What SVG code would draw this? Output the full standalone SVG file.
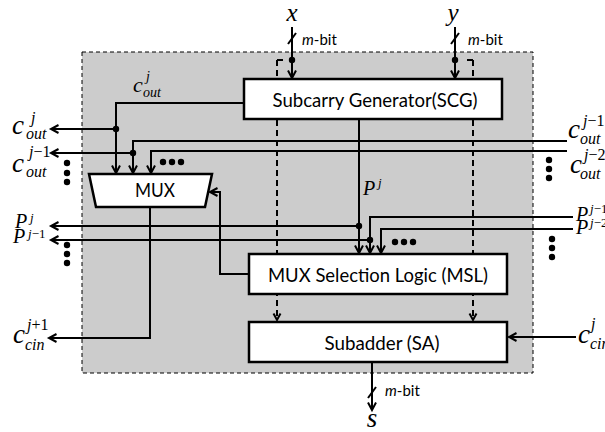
<svg xmlns="http://www.w3.org/2000/svg" width="605" height="432" viewBox="0 0 605 432">
<defs>
<marker id="arr" markerUnits="userSpaceOnUse" markerWidth="12" markerHeight="12" refX="9" refY="5" orient="auto" overflow="visible">
<path d="M1.5,1 L9,5 L1.5,9" fill="none" stroke="#000" stroke-width="2"/>
</marker>
<marker id="arrd" markerUnits="userSpaceOnUse" markerWidth="12" markerHeight="12" refX="8" refY="4.5" orient="auto" overflow="visible">
<path d="M1.5,1 L8,4.5 L1.5,8" fill="none" stroke="#000" stroke-width="2"/>
</marker>
</defs>
<style>
.box{fill:#fff;stroke:#000;stroke-width:2.5}
.w{fill:none;stroke:#000;stroke-width:2}
.a{marker-end:url(#arr)}
.d{fill:none;stroke:#000;stroke-width:2;stroke-dasharray:6 4}
.lbl{font-family:Lato,'Liberation Sans',sans-serif;font-size:19px;fill:#000}
.mb{font-family:Lato,'Liberation Sans',sans-serif;font-size:15px;fill:#000}
.m{font-family:'Liberation Serif',serif;font-style:italic;fill:#000}
.big{font-size:27px}
.top{font-size:25px}
.mid{font-size:22px}
.p{font-size:20px}
.s16{font-size:16px}
.s14{font-size:14px}
.s13{font-size:13px}
.up{font-style:normal}
.dot{fill:#000}
</style>
<rect id="frame" x="82" y="52" width="451" height="321" fill="#cccccc" stroke="#000" stroke-width="1" stroke-dasharray="4 3"/>
<g id="connectors">
<path class="d" d="M277,60 H285"/>
<path class="d" d="M277,60 V320" marker-end="url(#arrd)"/>
<path class="d" d="M473,60 H466"/>
<path class="d" d="M473,60 V320" marker-end="url(#arrd)"/>
<path class="w a" d="M292,27 V78"/>
<path class="w a" d="M455,27 V78"/>
<path class="w" d="M288,44 L296,33"/>
<path class="w" d="M451,44 L459,33"/>
<path class="w a" d="M244,103 H116 V173"/>
<path class="w a" d="M116,129 H51"/>
<path class="w a" d="M567,141 H133 V173"/>
<path class="w a" d="M133,153 H51"/>
<path class="w a" d="M567,151 H151 V173"/>
<path class="w a" d="M359,119 V253"/>
<path class="w a" d="M359,226 H51"/>
<path class="w a" d="M573,217 H370 V253"/>
<path class="w a" d="M370,240 H51"/>
<path class="w a" d="M573,229 H381 V253"/>
<path class="w a" d="M249,274 H220 V192 H210"/>
<path class="w a" d="M150,207 V338 H49"/>
<path class="w a" d="M576,337 H509"/>
<path class="w a" d="M372,362 V410"/>
<path class="w" d="M368,398 L376,387"/>
<circle class="dot" cx="292" cy="60" r="3.2"/>
<circle class="dot" cx="455" cy="60" r="3.2"/>
<circle class="dot" cx="116" cy="129" r="3.2"/>
<circle class="dot" cx="133" cy="153" r="3.2"/>
<circle class="dot" cx="359" cy="226" r="3.2"/>
<circle class="dot" cx="370" cy="240" r="3.2"/>
</g>
<g id="ellipses">
<circle class="dot" cx="163" cy="162" r="3.2"/><circle class="dot" cx="172" cy="162" r="3.2"/><circle class="dot" cx="181" cy="162" r="3.2"/>
<circle class="dot" cx="395" cy="242" r="3.2"/><circle class="dot" cx="404" cy="242" r="3.2"/><circle class="dot" cx="413" cy="242" r="3.2"/>
<circle class="dot" cx="67" cy="163" r="3.2"/><circle class="dot" cx="67" cy="173" r="3.2"/><circle class="dot" cx="67" cy="182" r="3.2"/>
<circle class="dot" cx="67" cy="245" r="3.2"/><circle class="dot" cx="67" cy="254" r="3.2"/><circle class="dot" cx="67" cy="263" r="3.2"/>
<circle class="dot" cx="549" cy="160" r="3.2"/><circle class="dot" cx="549" cy="169" r="3.2"/><circle class="dot" cx="549" cy="178" r="3.2"/>
<circle class="dot" cx="552" cy="239" r="3.2"/><circle class="dot" cx="552" cy="248" r="3.2"/><circle class="dot" cx="552" cy="257" r="3.2"/>
</g>
<g id="scg">
<rect class="box" x="244" y="79" width="258" height="40"/>
<text class="lbl" x="375" y="106.5" text-anchor="middle" textLength="205" lengthAdjust="spacingAndGlyphs">Subcarry Generator(SCG)</text>
</g>
<g id="mux">
<polygon class="box" points="89,174 212,174 205,207 96,207"/>
<text class="lbl" x="155" y="197" text-anchor="middle" textLength="40" lengthAdjust="spacingAndGlyphs">MUX</text>
</g>
<g id="msl">
<rect class="box" x="249" y="254" width="258" height="40"/>
<text class="lbl" x="378" y="281.5" text-anchor="middle" textLength="220" lengthAdjust="spacingAndGlyphs">MUX Selection Logic (MSL)</text>
</g>
<g id="sa">
<rect class="box" x="249" y="322" width="258" height="40"/>
<text class="lbl" x="382" y="349.5" text-anchor="middle" textLength="115" lengthAdjust="spacingAndGlyphs">Subadder (SA)</text>
</g>
<g id="labels">
<text class="m top" x="292" y="21" text-anchor="middle">x</text>
<text class="m top" x="453" y="21" text-anchor="middle">y</text>
<text class="m big" x="372" y="427" text-anchor="middle">s</text>
<text class="mb" x="302" y="45"><tspan font-style="italic">m</tspan>-bit</text>
<text class="mb" x="468" y="45"><tspan font-style="italic">m</tspan>-bit</text>
<text class="mb" x="385" y="396"><tspan font-style="italic">m</tspan>-bit</text>
<text class="m mid" x="133" y="92">c</text><text class="m s14" x="146" y="81">j</text><text class="m s14" x="143" y="97">out</text>
<text class="m p" x="363" y="195">P</text><text class="m s13" x="378" y="187">j</text>
<text class="m big" x="12" y="134">c</text><text class="m s16" x="31" y="123">j</text><text class="m s16" x="26" y="139">out</text>
<text class="m big" x="12" y="172">c</text><text class="m s16" x="29" y="157">j<tspan class="up">−1</tspan></text><text class="m s16" x="26" y="177">out</text>
<text class="m big" x="568" y="138">c</text><text class="m s16" x="583" y="126">j<tspan class="up">−1</tspan></text><text class="m s16" x="580" y="144">out</text>
<text class="m big" x="570" y="173">c</text><text class="m s16" x="584" y="160">j<tspan class="up">−2</tspan></text><text class="m s16" x="580" y="179">out</text>
<text class="m p" x="15" y="228">P</text><text class="m s13" x="30" y="222">j</text>
<text class="m p" x="13" y="243">P</text><text class="m s13" x="28" y="238">j<tspan class="up">−1</tspan></text>
<text class="m p" x="576" y="221">P</text><text class="m s13" x="590" y="213">j<tspan class="up">−1</tspan></text>
<text class="m p" x="576" y="234">P</text><text class="m s13" x="590" y="227">j<tspan class="up">−2</tspan></text>
<text class="m big" x="13" y="343">c</text><text class="m s16" x="27" y="330">j<tspan class="up">+1</tspan></text><text class="m s16" x="25" y="350">cin</text>
<text class="m big" x="578" y="343">c</text><text class="m s16" x="591" y="329">j</text><text class="m s16" x="590" y="349">cin</text>
</g>
</svg>
